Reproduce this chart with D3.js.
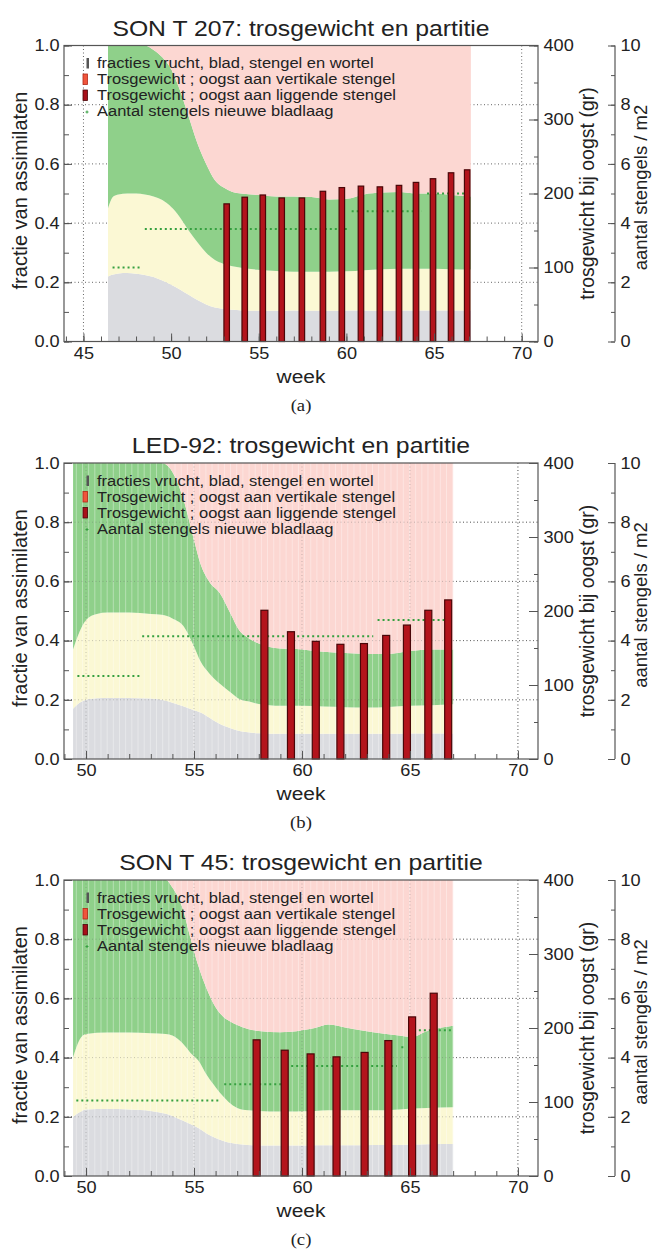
<!DOCTYPE html>
<html>
<head>
<meta charset="utf-8">
<script src="https://cdn.jsdelivr.net/npm/d3@7"></script>
<style>
  body { margin: 0; background: #fff; }
  svg { display: block; }
  text { font-family: "Liberation Sans", Arial, Helvetica, sans-serif; fill: #222; }
</style>
</head>
<body>
<svg id="chart" width="653" height="1257"></svg>
<script>
// ---------- shared tick labels ----------
const fracTicks = [0, 0.2, 0.4, 0.6, 0.8, 1.0];
const gramTicks = [0, 100, 200, 300, 400];
const stemTicks = [0, 2, 4, 6, 8, 10];
const weekTicksA = [45, 50, 55, 60, 65, 70];
const weekTicksBC = [50, 55, 60, 65, 70];
const legendLabels = [
  "fracties vrucht, blad, stengel en wortel",
  "Trosgewicht ; oogst aan vertikale stengel",
  "Trosgewicht ; oogst aan liggende stengel",
  "Aantal stengels nieuwe bladlaag"
];

// ---------- (a) SON T 207 ----------
const aTitle = "SON T 207: trosgewicht en partitie";
const aWeek    = [46.4, 46.7, 47.0, 47.5, 48.0, 48.5, 49.0, 49.5, 50.0, 50.5, 51.0, 51.5, 52.0, 52.5, 53.0, 53.5, 54.0, 55.0, 56.0, 57.0, 58.0, 59.0, 60.0, 61.0, 62.0, 63.0, 64.0, 65.0, 66.0, 67.1];
const aWortel  = [0.220, 0.226, 0.230, 0.231, 0.229, 0.225, 0.218, 0.206, 0.192, 0.176, 0.158, 0.140, 0.125, 0.115, 0.110, 0.107, 0.105, 0.104, 0.104, 0.105, 0.104, 0.104, 0.105, 0.105, 0.104, 0.105, 0.105, 0.105, 0.105, 0.105];
const aStengel = [0.45, 0.49, 0.497, 0.500, 0.500, 0.497, 0.490, 0.478, 0.455, 0.420, 0.375, 0.335, 0.300, 0.275, 0.262, 0.254, 0.249, 0.242, 0.238, 0.236, 0.236, 0.236, 0.237, 0.241, 0.244, 0.246, 0.246, 0.246, 0.244, 0.243];
const aBlad    = [1, 1, 1, 1, 1, 1, 0.985, 0.96, 0.92, 0.85, 0.76, 0.67, 0.60, 0.545, 0.52, 0.505, 0.50, 0.495, 0.49, 0.49, 0.488, 0.48, 0.482, 0.497, 0.503, 0.505, 0.50, 0.50, 0.495, 0.49];
const aOogstWeek = [53.17, 54.2, 55.23, 56.31, 57.46, 58.66, 59.74, 60.83, 61.91, 63.0, 63.97, 64.94, 65.97, 66.89];
const aOogstGram = [186, 195, 198, 194, 194, 203, 208, 210, 209, 211, 215, 220, 228, 232];
const aStemFrom  = [46.66, 48.5, 60.3, 64.6];
const aStemTo    = [48.3, 60.1, 64.3, 66.9];
const aStemCount = [2.5, 3.8, 4.4, 5.0];

// ---------- (b) LED-92 ----------
const bTitle = "LED-92: trosgewicht en partitie";
const bWeek    = [49.4, 49.7, 50.0, 50.5, 51.0, 52.0, 53.0, 53.5, 54.0, 54.5, 55.0, 55.3, 55.7, 56.2, 56.7, 57.1, 57.5, 58.0, 59.0, 60.0, 61.0, 62.0, 63.0, 64.0, 65.0, 66.0, 67.0];
const bWortel  = [0.17, 0.19, 0.20, 0.205, 0.206, 0.206, 0.204, 0.20, 0.19, 0.178, 0.165, 0.157, 0.14, 0.118, 0.104, 0.095, 0.09, 0.087, 0.085, 0.085, 0.085, 0.085, 0.085, 0.085, 0.086, 0.086, 0.086];
const bStengel = [0.37, 0.43, 0.47, 0.49, 0.495, 0.495, 0.49, 0.487, 0.475, 0.45, 0.38, 0.33, 0.29, 0.254, 0.225, 0.203, 0.195, 0.186, 0.18, 0.18, 0.177, 0.175, 0.174, 0.176, 0.18, 0.182, 0.185];
const bBlad    = [1, 1, 1, 1, 1, 1, 1, 1, 0.97, 0.88, 0.74, 0.66, 0.60, 0.56, 0.49, 0.434, 0.41, 0.39, 0.373, 0.37, 0.362, 0.358, 0.355, 0.355, 0.365, 0.37, 0.37];
const bOogstWeek = [58.26, 59.49, 60.64, 61.78, 62.87, 63.9, 64.86, 65.85, 66.77];
const bOogstGram = [201, 172, 159, 155, 156, 167, 181, 201, 215];
const bStemFrom  = [49.6, 52.6, 63.5];
const bStemTo    = [52.5, 63.3, 66.6];
const bStemCount = [2.8, 4.15, 4.7];

// ---------- (c) SON T 45 ----------
const cTitle = "SON T 45: trosgewicht en partitie";
const cWeek    = [49.4, 49.7, 50.0, 51.0, 52.0, 53.0, 53.7, 54.0, 54.45, 54.85, 55.2, 55.6, 56.0, 56.4, 56.6, 57.0, 57.5, 58.0, 59.0, 59.5, 60.0, 60.6, 61.2, 62.0, 63.3, 64.5, 65.1, 65.8, 67.0];
const cWortel  = [0.20, 0.215, 0.225, 0.226, 0.225, 0.22, 0.21, 0.203, 0.188, 0.175, 0.162, 0.143, 0.128, 0.117, 0.113, 0.108, 0.105, 0.103, 0.103, 0.103, 0.103, 0.104, 0.104, 0.104, 0.105, 0.105, 0.106, 0.107, 0.108];
const cStengel = [0.40, 0.46, 0.48, 0.485, 0.485, 0.482, 0.48, 0.475, 0.45, 0.415, 0.39, 0.34, 0.30, 0.265, 0.25, 0.23, 0.222, 0.22, 0.218, 0.218, 0.219, 0.22, 0.222, 0.222, 0.222, 0.225, 0.228, 0.23, 0.232];
const cBlad    = [1, 1, 1, 1, 1, 1, 1, 0.975, 0.91, 0.80, 0.71, 0.63, 0.57, 0.535, 0.525, 0.51, 0.497, 0.49, 0.486, 0.487, 0.492, 0.50, 0.512, 0.502, 0.486, 0.475, 0.47, 0.49, 0.508];
const cOogstWeek = [57.9, 59.2, 60.4, 61.6, 62.9, 64.0, 65.1, 66.1];
const cOogstGram = [184, 170, 165, 161, 167, 183, 215, 247];
const cStemFrom  = [49.55, 56.4, 59.5, 64.6, 64.95];
const cStemTo    = [56.2, 59.3, 64.4, 64.8, 67.0];
const cStemCount = [2.55, 3.1, 3.72, 4.35, 4.92];

// ---------- layout ----------
const SX = 1.1;            // glyphs in the scan are a bit wide
const X0 = 64, X1 = 538, AX3 = 615, PH = 296;
const MID = (X0 + X1) / 2;
const svg = d3.select("#chart");

function htext(g, x, y, txt, size, anchor) {
  return g.append("text")
    .attr("transform", "translate(" + x + "," + y + ") scale(" + SX + ",1)")
    .attr("text-anchor", anchor || "middle")
    .style("font-size", size + "px")
    .text(txt);
}

function drawPanel(p) {
  const g = svg.append("g");
  const top = p.top, bot = p.top + PH;
  const x  = d3.scaleLinear().domain(p.xDomain).range([X0, X1]);
  const y  = d3.scaleLinear().domain([0, 1]).range([bot, top]);
  const yG = d3.scaleLinear().domain([0, 400]).range([bot, top]);
  const yS = d3.scaleLinear().domain([0, 10]).range([bot, top]);

  function grid(op) {
    const gg = g.append("g").attr("stroke", "#666").attr("stroke-width", 1)
      .attr("stroke-dasharray", "1,2.5").attr("opacity", op);
    gg.selectAll(null).data(p.xTicks).join("line")
      .attr("x1", d => x(d)).attr("x2", d => x(d)).attr("y1", top).attr("y2", bot);
    gg.selectAll(null).data(fracTicks.slice(1, -1)).join("line")
      .attr("x1", X0).attr("x2", X1).attr("y1", d => y(d)).attr("y2", d => y(d));
  }
  grid(1);

  // stacked partition bands
  const rows = p.week.map((w, i) => ({ w: w, r: p.wortel[i], s: p.stengel[i], b: p.blad[i] }));
  const band = (lo, hi) => d3.area().x(d => x(d.w)).y0(d => y(lo(d))).y1(d => y(hi(d))).curve(d3.curveMonotoneX);
  g.append("path").datum(rows).attr("fill", "#dbdce0").attr("d", band(d => 0, d => d.r));
  g.append("path").datum(rows).attr("fill", "#fbf8d4").attr("d", band(d => d.r, d => d.s));
  g.append("path").datum(rows).attr("fill", "#8fd08a").attr("d", band(d => d.s, d => d.b));
  g.append("path").datum(rows).attr("fill", "#fcd7d2").attr("d", band(d => d.b, d => 1));

  if (p.striped) {
    const w0 = p.week[0], w1 = p.week[p.week.length - 1];
    g.append("g").attr("stroke", "#fff").attr("stroke-width", 1).attr("opacity", 0.35)
      .selectAll(null).data(d3.range(w0 + 0.15, w1, 2 / 7)).join("line")
      .attr("x1", d => x(d)).attr("x2", d => x(d)).attr("y1", top).attr("y2", bot);
    grid(0.35);
  }

  // stems per m2 (dotted green)
  g.append("g").attr("stroke", "#36a040").attr("stroke-width", 2).attr("stroke-dasharray", "2,3")
    .selectAll(null).data(p.stemCount).join("line")
    .attr("x1", (d, i) => x(p.stemFrom[i])).attr("x2", (d, i) => x(p.stemTo[i]))
    .attr("y1", d => yS(d)).attr("y2", d => yS(d));

  // harvest weights
  g.append("g").selectAll(null).data(p.oogstGram).join("rect")
    .attr("x", (d, i) => x(p.oogstWeek[i]) - p.barW / 2)
    .attr("y", d => yG(d))
    .attr("width", p.barW)
    .attr("height", d => bot - yG(d))
    .attr("fill", "#b3141c").attr("stroke", "#4a0608").attr("stroke-width", 1.2);

  // frame
  g.append("rect").attr("x", X0).attr("y", top).attr("width", X1 - X0).attr("height", PH)
    .attr("fill", "none").attr("stroke", "#555").attr("stroke-width", 1.2);

  // axes
  function styleAxis(ax) {
    ax.select(".domain").remove();
    ax.selectAll("line").attr("stroke", "#555");
    ax.selectAll("text").attr("transform", "scale(" + SX + ",1)").style("font-size", "16.5px")
      .attr("fill", "#222").style("font-family", "'Liberation Sans', Arial, sans-serif");
    return ax;
  }
  styleAxis(g.append("g").attr("transform", "translate(" + X0 + ",0)")
    .call(d3.axisLeft(y).tickValues(y.ticks(10)).tickSize(-5).tickFormat("")));
  styleAxis(g.append("g").attr("transform", "translate(" + X0 + ",0)")
    .call(d3.axisLeft(y).tickValues(fracTicks).tickSize(-8).tickPadding(4).tickFormat(d3.format(".1f"))));

  const minorWeeks = d3.range(Math.ceil(p.xDomain[0]), Math.floor(p.xDomain[1]) + 1);
  styleAxis(g.append("g").attr("transform", "translate(0," + bot + ")")
    .call(d3.axisBottom(x).tickValues(minorWeeks).tickSize(-5).tickFormat("")));
  styleAxis(g.append("g").attr("transform", "translate(0," + bot + ")")
    .call(d3.axisBottom(x).tickValues(p.xTicks).tickSize(-8).tickPadding(5.5).tickFormat(d3.format("d"))));

  styleAxis(g.append("g").attr("transform", "translate(" + X1 + ",0)")
    .call(d3.axisRight(yG).tickValues(yG.ticks(8)).tickSize(-4).tickFormat("")));
  styleAxis(g.append("g").attr("transform", "translate(" + X1 + ",0)")
    .call(d3.axisRight(yG).tickValues(gramTicks).tickSize(-9).tickPadding(5).tickFormat(d3.format("d"))));

  g.append("line").attr("x1", AX3).attr("x2", AX3).attr("y1", top).attr("y2", bot)
    .attr("stroke", "#555").attr("stroke-width", 1.2);
  styleAxis(g.append("g").attr("transform", "translate(" + AX3 + ",0)")
    .call(d3.axisRight(yS).tickValues(yS.ticks(10)).tickSize(-4).tickFormat("")));
  styleAxis(g.append("g").attr("transform", "translate(" + AX3 + ",0)")
    .call(d3.axisRight(yS).tickValues(stemTicks).tickSize(-7).tickPadding(5).tickFormat(d3.format("d"))));

  // titles
  htext(g, MID, top - 10, p.title, 22.5);
  htext(g, MID, bot + 41, "week", 19);
  htext(g, MID, bot + 69, p.caption, 17).style("font-family", "'Liberation Serif', 'DejaVu Serif', serif");
  const cy = (top + bot) / 2;
  g.append("text").attr("transform", "translate(27," + (cy - 3) + ") rotate(-90)")
    .attr("text-anchor", "middle").style("font-size", "20px").text("fractie van assimilaten");
  g.append("text").attr("transform", "translate(594," + cy + ") rotate(-90)")
    .attr("text-anchor", "middle").style("font-size", "19.5px").text("trosgewicht bij oogst (gr)");
  g.append("text").attr("transform", "translate(646.5," + (cy - 6) + ") rotate(-90)")
    .attr("text-anchor", "middle").style("font-size", "18.5px").text("aantal stengels / m2");

  // legend
  const lg = g.append("g");
  const base = [22.5, 38.5, 54.5, 70.5].map(v => top + v);
  lg.append("rect").attr("x", 86.5).attr("y", base[0] - 10).attr("width", 2.5).attr("height", 10.5).attr("fill", "#555");
  lg.append("rect").attr("x", 83).attr("y", base[1] - 10).attr("width", 4.5).attr("height", 10.5)
    .attr("fill", "#f0553c").attr("stroke", "#b02818").attr("stroke-width", 0.8);
  lg.append("rect").attr("x", 83).attr("y", base[2] - 10).attr("width", 4.5).attr("height", 10.5)
    .attr("fill", "#a8101a").attr("stroke", "#4a0608").attr("stroke-width", 0.8);
  lg.append("path").attr("d", "M85.5," + (base[3] - 4) + "h3M87," + (base[3] - 5.5) + "v3")
    .attr("stroke", "#36a040").attr("stroke-width", 1);
  legendLabels.forEach((t, i) => htext(lg, 97, base[i], t, 15, "start"));
}

drawPanel({ title: aTitle, caption: "(a)", top: 45.5, xDomain: [43.89, 70.93], xTicks: weekTicksA,
  week: aWeek, wortel: aWortel, stengel: aStengel, blad: aBlad,
  oogstWeek: aOogstWeek, oogstGram: aOogstGram,
  stemFrom: aStemFrom, stemTo: aStemTo, stemCount: aStemCount, barW: 5.5, striped: false });
drawPanel({ title: bTitle, caption: "(b)", top: 463, xDomain: [48.98, 70.93], xTicks: weekTicksBC,
  week: bWeek, wortel: bWortel, stengel: bStengel, blad: bBlad,
  oogstWeek: bOogstWeek, oogstGram: bOogstGram,
  stemFrom: bStemFrom, stemTo: bStemTo, stemCount: bStemCount, barW: 7, striped: true });
drawPanel({ title: cTitle, caption: "(c)", top: 880, xDomain: [48.98, 70.93], xTicks: weekTicksBC,
  week: cWeek, wortel: cWortel, stengel: cStengel, blad: cBlad,
  oogstWeek: cOogstWeek, oogstGram: cOogstGram,
  stemFrom: cStemFrom, stemTo: cStemTo, stemCount: cStemCount, barW: 7, striped: true });
</script>
</body>
</html>
